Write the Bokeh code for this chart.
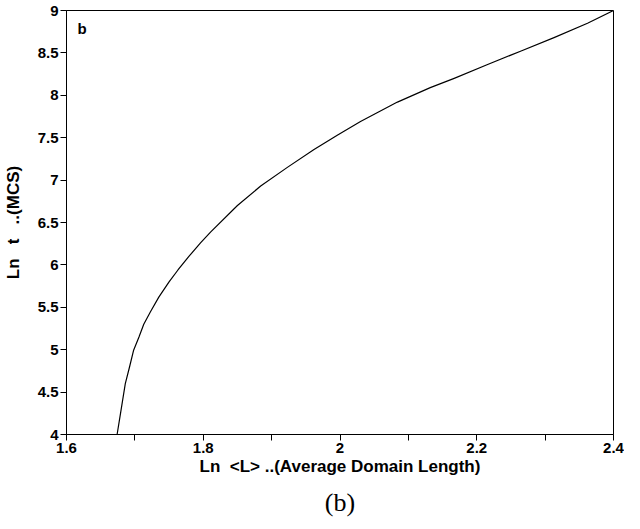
from bokeh.plotting import figure
from bokeh.models import FixedTicker, CustomJSTickFormatter, Label, Title, Range1d
from bokeh.embed import file_html
from bokeh.resources import INLINE

# Curve data
ln_L = [1.674, 1.678, 1.682, 1.686, 1.692, 1.698, 1.706, 1.713, 1.723, 1.735, 1.750,
        1.763, 1.779, 1.796, 1.811, 1.850, 1.884, 1.923, 1.962, 1.996, 2.030, 2.084,
        2.132, 2.167, 2.215, 2.264, 2.313, 2.362, 2.400]
ln_t = [4.00, 4.20, 4.40, 4.60, 4.79, 4.99, 5.15, 5.30, 5.45, 5.62, 5.80,
        5.94, 6.10, 6.26, 6.39, 6.70, 6.93, 7.15, 7.36, 7.53, 7.69, 7.92,
        8.09, 8.20, 8.36, 8.52, 8.68, 8.85, 9.00]

x_ticks = [1.6, 1.8, 2.0, 2.2, 2.4]
x_minor_ticks = [1.7, 1.9, 2.1, 2.3]
y_ticks = [4.0, 4.5, 5.0, 5.5, 6.0, 6.5, 7.0, 7.5, 8.0, 8.5, 9.0]
x_label = "Ln\u00a0\u00a0<L>\u00a0..(Average\u00a0Domain\u00a0Length)"
y_label = "Ln\u00a0\u00a0\u00a0t\u00a0\u00a0\u00a0..(MCS)"
panel = "b"
caption = "(b)"

FONT = "Liberation Sans"

p = figure(width=624, height=513, frame_width=547, frame_height=424,
           output_backend="svg", toolbar_location=None,
           x_range=Range1d(x_ticks[0], x_ticks[-1]), y_range=Range1d(y_ticks[0], y_ticks[-1]),
           min_border_left=66, min_border_right=11, min_border_top=10, min_border_bottom=79)

p.line(ln_L, ln_t, line_color="black", line_width=1.2, line_join="round")

p.grid.visible = False
p.outline_line_color = "black"
p.outline_line_width = 1
p.background_fill_color = "white"
p.border_fill_color = "white"

fmt = CustomJSTickFormatter(code="return String(parseFloat(tick.toFixed(3)));")

xa = p.xaxis[0]
xa.ticker = FixedTicker(ticks=x_ticks, minor_ticks=x_minor_ticks)
xa.formatter = fmt
ya = p.yaxis[0]
ya.ticker = FixedTicker(ticks=y_ticks, minor_ticks=[])
ya.formatter = fmt

for ax in (xa, ya):
    ax.axis_line_color = "black"
    ax.major_tick_line_color = "black"
    ax.minor_tick_line_color = "black"
    ax.major_tick_in = 0
    ax.major_tick_out = 6
    ax.minor_tick_in = 0
    ax.minor_tick_out = 6
    ax.major_label_text_font = FONT
    ax.major_label_text_font_style = "bold"
    ax.major_label_text_font_size = "15px"
    ax.major_label_text_color = "black"
    ax.major_label_standoff = 2
    ax.axis_label_text_font = FONT
    ax.axis_label_text_font_style = "bold"
    ax.axis_label_text_font_size = "17px"
    ax.axis_label_text_color = "black"

xa.axis_label_standoff = 1
ya.axis_label_standoff = 12
xa.axis_label = x_label
ya.axis_label = y_label

p.add_layout(Label(x=1.616, y=8.89, text=panel, text_font=FONT, text_font_style="bold",
                   text_font_size="15px", text_baseline="top", text_color="black"))

cap = Title(text=caption, align="center", text_font="Liberation Serif",
            text_font_style="normal", text_font_size="26px", text_color="black",
            standoff=14)
p.add_layout(cap, "below")

open("out.html", "w").write(file_html(p, INLINE))
